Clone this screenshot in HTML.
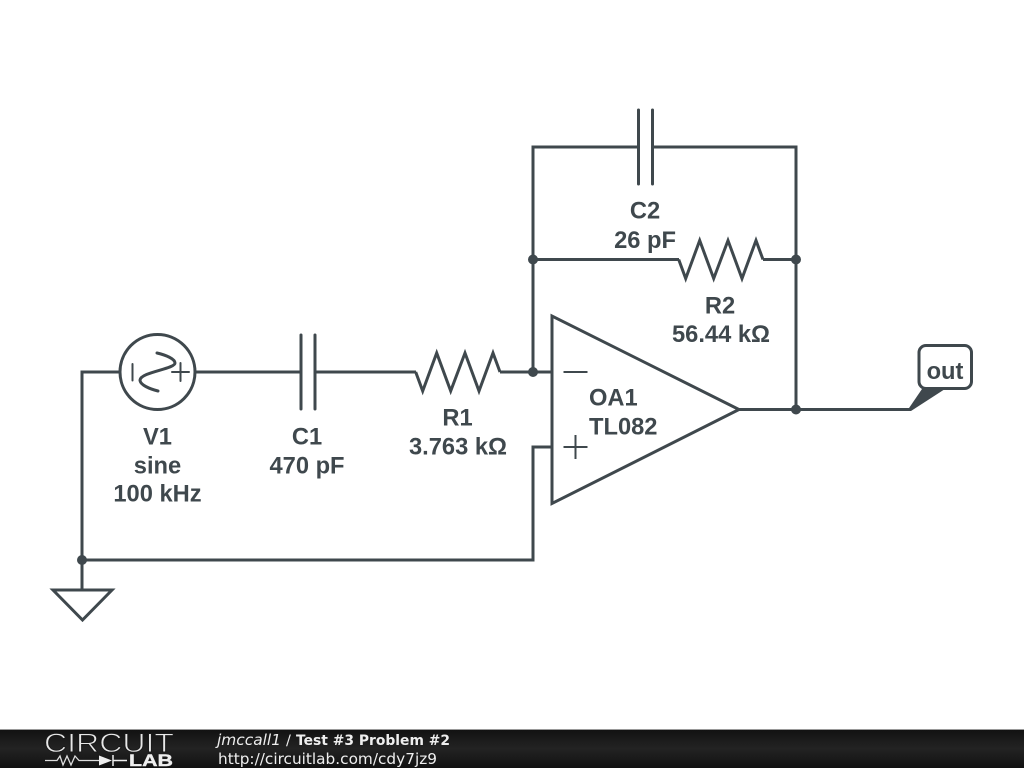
<!DOCTYPE html>
<html>
<head>
<meta charset="utf-8">
<style>
html,body{margin:0;padding:0;background:#fff;width:1024px;height:768px;overflow:hidden}
svg{display:block}
.w{fill:none;stroke:#3f484d;stroke-width:3;stroke-linejoin:miter}
.l{font-family:"Liberation Sans",sans-serif;font-weight:bold;font-size:23.7px;fill:#3f484d;text-anchor:middle}
</style>
</head>
<body>
<svg width="1024" height="768" viewBox="0 0 1024 768" xmlns="http://www.w3.org/2000/svg">
<defs>
<linearGradient id="f" x1="0" y1="0" x2="0" y2="1">
<stop offset="0" stop-color="#111"/><stop offset="0.5" stop-color="#232323"/><stop offset="1" stop-color="#111"/>
</linearGradient>
</defs>
<rect width="1024" height="768" fill="#fff"/>

<!-- wires -->
<path class="w" d="M119 372H82V590"/>
<path class="w" d="M82 560H533V447H552"/>
<path class="w" d="M196 372H301"/>
<path class="w" d="M314 372H416"/>
<path class="w" d="M500 372H552"/>
<path class="w" d="M533 372V147H638"/>
<path class="w" d="M653 147H796V409.500"/>
<path class="w" d="M533 259.500H679"/>
<path class="w" d="M763 259.500H796"/>
<path class="w" d="M738 409.500H909"/>

<!-- V1 -->
<circle class="w" cx="157.500" cy="372" r="37.500"/>
<path class="w" stroke-linecap="round" style="stroke-width:2" d="M132.500 364V380.500M172 372H189M180.500 363V381"/>
<path class="w" stroke-linecap="round" d="M157 353C166 355 175 359 175 363C175 369 141 372 140 380C140 385 150 389 158 391"/>

<!-- Capacitors -->
<path class="w" stroke-linecap="round" d="M301 335V409M315 335V409"/>
<path class="w" stroke-linecap="round" d="M638.500 110V184M652.500 110V184"/>

<!-- Resistors -->
<path class="w" d="M415.700 372L422.700 391L436.700 353L450.700 391L465 353L479 391L493 353L500 372"/>
<path class="w" d="M678.700 259.500L685.700 278.500L699.700 240.500L713.700 278.500L728 240.500L742 278.500L756 240.500L763 259.500"/>

<!-- Opamp -->
<path class="w" d="M552 316V503.500L739 409.500Z"/>
<path class="w" style="stroke-width:2" d="M563.500 372H587.500M563.500 447H587.500M575.500 435V459"/>

<!-- Ground -->
<path class="w" stroke-linejoin="round" d="M53 590H112L82.500 620Z"/>

<!-- Junctions -->
<circle cx="82" cy="560" r="5" fill="#3f484d"/>
<circle cx="533" cy="372" r="5" fill="#3f484d"/>
<circle cx="533" cy="259.500" r="5" fill="#3f484d"/>
<circle cx="796" cy="259.500" r="5" fill="#3f484d"/>
<circle cx="796" cy="409.500" r="5" fill="#3f484d"/>

<!-- Out tag -->
<path d="M907 411L922 389H945L911 411Z" fill="#3f484d"/>
<rect class="w" x="919" y="345.500" width="52.500" height="43" rx="7" ry="7"/>
<text class="l" x="945" y="379">out</text>

<!-- Labels -->
<text class="l" x="157.500" y="444.500">V1</text>
<text class="l" x="157.500" y="473.500">sine</text>
<text class="l" x="157.500" y="501.500">100 kHz</text>
<text class="l" x="307" y="444.500">C1</text>
<text class="l" x="307" y="473.500">470 pF</text>
<text class="l" x="457.500" y="425.500">R1</text>
<text class="l" x="458" y="454.500">3.763 kΩ</text>
<text class="l" x="645" y="218.500">C2</text>
<text class="l" x="645" y="248">26 pF</text>
<text class="l" x="720" y="313.500">R2</text>
<text class="l" x="721" y="342">56.44 kΩ</text>
<text class="l" x="589" y="405.500" style="text-anchor:start">OA1</text>
<text class="l" x="589" y="434.500" style="text-anchor:start">TL082</text>

<!-- Footer -->
<rect x="0" y="729" width="1024" height="39" fill="url(#f)"/>
<rect x="0" y="729" width="1024" height="1" fill="#999"/>
<text x="44" y="752" font-family="Liberation Sans, sans-serif" font-size="27" fill="#e8e8e8" stroke="#1a1a1a" stroke-width="0.9" textLength="130" lengthAdjust="spacingAndGlyphs">CIRCUIT</text>
<path d="M45 760.500H57L60 756L63 765L67 756L71 765L75 756L79 760.500H99" fill="none" stroke="#ddd" stroke-width="1.300"/>
<path d="M99 755.500L112 760.500L99 765.500Z" fill="#eee"/>
<path d="M113 755V766M113 760.500H127" fill="none" stroke="#eee" stroke-width="1.500"/>
<text x="129" y="766" font-family="Liberation Sans, sans-serif" font-weight="bold" font-size="17" fill="#eee" stroke="#eee" stroke-width="0.4" textLength="44" lengthAdjust="spacingAndGlyphs">LAB</text>
<text x="217" y="745" font-family="DejaVu Sans, sans-serif" font-size="15" font-style="italic" fill="#eee" textLength="64" lengthAdjust="spacingAndGlyphs">jmccall1</text>
<text x="286" y="745" font-family="DejaVu Sans, sans-serif" font-size="14.500" fill="#eee">/</text>
<text x="296" y="745" font-family="DejaVu Sans, sans-serif" font-size="14.500" font-weight="bold" fill="#eee" textLength="154" lengthAdjust="spacingAndGlyphs">Test #3 Problem #2</text>
<text x="218" y="764" font-family="DejaVu Sans, sans-serif" font-size="15" fill="#eee" textLength="219" lengthAdjust="spacingAndGlyphs">http://circuitlab.com/cdy7jz9</text>
</svg>
</body>
</html>
